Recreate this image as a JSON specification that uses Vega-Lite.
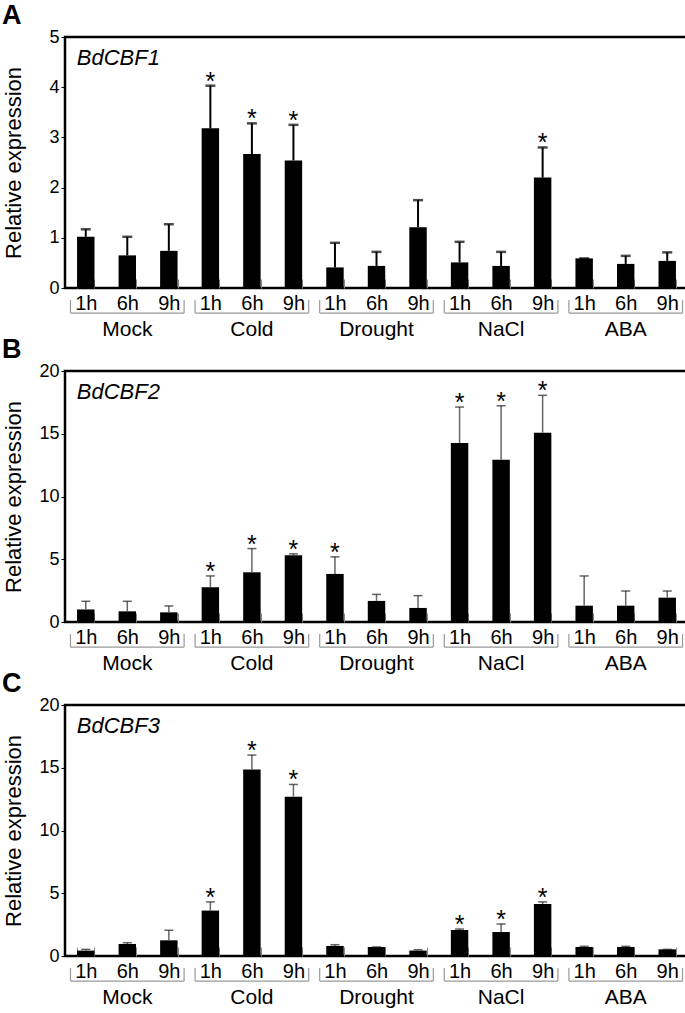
{
  "$schema": "https://vega.github.io/schema/vega-lite/v6.json",
  "padding": {"left": 0, "top": 0, "right": 0, "bottom": 0},
  "spacing": -7,
  "data": {"values": [
    {"p":"A","gene":"BdCBF1","treat":"Mock","time":"1h","key":"Mock|1h","mean":1.02,"upper":1.17,"sig":""},
    {"p":"A","gene":"BdCBF1","treat":"Mock","time":"6h","key":"Mock|6h","mean":0.65,"upper":1.02,"sig":""},
    {"p":"A","gene":"BdCBF1","treat":"Mock","time":"9h","key":"Mock|9h","mean":0.74,"upper":1.27,"sig":""},
    {"p":"A","gene":"BdCBF1","treat":"Cold","time":"1h","key":"Cold|1h","mean":3.18,"upper":4.03,"sig":"*"},
    {"p":"A","gene":"BdCBF1","treat":"Cold","time":"6h","key":"Cold|6h","mean":2.67,"upper":3.28,"sig":"*"},
    {"p":"A","gene":"BdCBF1","treat":"Cold","time":"9h","key":"Cold|9h","mean":2.54,"upper":3.25,"sig":"*"},
    {"p":"A","gene":"BdCBF1","treat":"Drought","time":"1h","key":"Drought|1h","mean":0.41,"upper":0.9,"sig":""},
    {"p":"A","gene":"BdCBF1","treat":"Drought","time":"6h","key":"Drought|6h","mean":0.44,"upper":0.72,"sig":""},
    {"p":"A","gene":"BdCBF1","treat":"Drought","time":"9h","key":"Drought|9h","mean":1.21,"upper":1.75,"sig":""},
    {"p":"A","gene":"BdCBF1","treat":"NaCl","time":"1h","key":"NaCl|1h","mean":0.51,"upper":0.92,"sig":""},
    {"p":"A","gene":"BdCBF1","treat":"NaCl","time":"6h","key":"NaCl|6h","mean":0.44,"upper":0.72,"sig":""},
    {"p":"A","gene":"BdCBF1","treat":"NaCl","time":"9h","key":"NaCl|9h","mean":2.2,"upper":2.8,"sig":"*"},
    {"p":"A","gene":"BdCBF1","treat":"ABA","time":"1h","key":"ABA|1h","mean":0.59,"upper":0.59,"sig":""},
    {"p":"A","gene":"BdCBF1","treat":"ABA","time":"6h","key":"ABA|6h","mean":0.48,"upper":0.64,"sig":""},
    {"p":"A","gene":"BdCBF1","treat":"ABA","time":"9h","key":"ABA|9h","mean":0.54,"upper":0.71,"sig":""},
    {"p":"B","gene":"BdCBF2","treat":"Mock","time":"1h","key":"Mock|1h","mean":1.0,"upper":1.65,"sig":""},
    {"p":"B","gene":"BdCBF2","treat":"Mock","time":"6h","key":"Mock|6h","mean":0.85,"upper":1.65,"sig":""},
    {"p":"B","gene":"BdCBF2","treat":"Mock","time":"9h","key":"Mock|9h","mean":0.77,"upper":1.28,"sig":""},
    {"p":"B","gene":"BdCBF2","treat":"Cold","time":"1h","key":"Cold|1h","mean":2.77,"upper":3.67,"sig":"*"},
    {"p":"B","gene":"BdCBF2","treat":"Cold","time":"6h","key":"Cold|6h","mean":3.96,"upper":5.85,"sig":"*"},
    {"p":"B","gene":"BdCBF2","treat":"Cold","time":"9h","key":"Cold|9h","mean":5.32,"upper":5.43,"sig":"*"},
    {"p":"B","gene":"BdCBF2","treat":"Drought","time":"1h","key":"Drought|1h","mean":3.83,"upper":5.19,"sig":"*"},
    {"p":"B","gene":"BdCBF2","treat":"Drought","time":"6h","key":"Drought|6h","mean":1.68,"upper":2.2,"sig":""},
    {"p":"B","gene":"BdCBF2","treat":"Drought","time":"9h","key":"Drought|9h","mean":1.12,"upper":2.1,"sig":""},
    {"p":"B","gene":"BdCBF2","treat":"NaCl","time":"1h","key":"NaCl|1h","mean":14.26,"upper":17.13,"sig":"*"},
    {"p":"B","gene":"BdCBF2","treat":"NaCl","time":"6h","key":"NaCl|6h","mean":12.93,"upper":17.23,"sig":"*"},
    {"p":"B","gene":"BdCBF2","treat":"NaCl","time":"9h","key":"NaCl|9h","mean":15.08,"upper":18.06,"sig":"*"},
    {"p":"B","gene":"BdCBF2","treat":"ABA","time":"1h","key":"ABA|1h","mean":1.3,"upper":3.67,"sig":""},
    {"p":"B","gene":"BdCBF2","treat":"ABA","time":"6h","key":"ABA|6h","mean":1.3,"upper":2.47,"sig":""},
    {"p":"B","gene":"BdCBF2","treat":"ABA","time":"9h","key":"ABA|9h","mean":1.94,"upper":2.47,"sig":""},
    {"p":"C","gene":"BdCBF3","treat":"Mock","time":"1h","key":"Mock|1h","mean":0.43,"upper":0.53,"sig":""},
    {"p":"C","gene":"BdCBF3","treat":"Mock","time":"6h","key":"Mock|6h","mean":0.96,"upper":1.06,"sig":""},
    {"p":"C","gene":"BdCBF3","treat":"Mock","time":"9h","key":"Mock|9h","mean":1.25,"upper":2.05,"sig":""},
    {"p":"C","gene":"BdCBF3","treat":"Cold","time":"1h","key":"Cold|1h","mean":3.62,"upper":4.31,"sig":"*"},
    {"p":"C","gene":"BdCBF3","treat":"Cold","time":"6h","key":"Cold|6h","mean":14.87,"upper":16.01,"sig":"*"},
    {"p":"C","gene":"BdCBF3","treat":"Cold","time":"9h","key":"Cold|9h","mean":12.69,"upper":13.67,"sig":"*"},
    {"p":"C","gene":"BdCBF3","treat":"Drought","time":"1h","key":"Drought|1h","mean":0.8,"upper":0.9,"sig":""},
    {"p":"C","gene":"BdCBF3","treat":"Drought","time":"6h","key":"Drought|6h","mean":0.72,"upper":0.72,"sig":""},
    {"p":"C","gene":"BdCBF3","treat":"Drought","time":"9h","key":"Drought|9h","mean":0.43,"upper":0.5,"sig":""},
    {"p":"C","gene":"BdCBF3","treat":"NaCl","time":"1h","key":"NaCl|1h","mean":2.07,"upper":2.15,"sig":"*"},
    {"p":"C","gene":"BdCBF3","treat":"NaCl","time":"6h","key":"NaCl|6h","mean":1.91,"upper":2.55,"sig":"*"},
    {"p":"C","gene":"BdCBF3","treat":"NaCl","time":"9h","key":"NaCl|9h","mean":4.15,"upper":4.31,"sig":"*"},
    {"p":"C","gene":"BdCBF3","treat":"ABA","time":"1h","key":"ABA|1h","mean":0.72,"upper":0.77,"sig":""},
    {"p":"C","gene":"BdCBF3","treat":"ABA","time":"6h","key":"ABA|6h","mean":0.72,"upper":0.77,"sig":""},
    {"p":"C","gene":"BdCBF3","treat":"ABA","time":"9h","key":"ABA|9h","mean":0.53,"upper":0.53,"sig":""}
  ]},
  "vconcat": [
    {
      "title": {"text": "A", "anchor": "start", "frame": "bounds", "fontSize": 27, "fontWeight": "bold", "offset": -2},
      "transform": [{"filter": "datum.p === 'A'"}],
      "width": 623, "height": 251,
      "layer": [
        {
          "encoding": {
            "x": {"field": "key", "type": "nominal", "sort": null, "scale": {"paddingInner": 0.58, "paddingOuter": 0.29},
                  "axis": {"orient": "bottom", "title": null, "domain": false, "grid": false, "tickBand": "extent", "tickSize": -9, "tickColor": "#888888", "tickWidth": 1, "labelExpr": "split(datum.value, '|')[1]", "labelFontSize": 20, "labelPadding": 14, "labelAngle": 0}},
            "y": {"field": "mean", "type": "quantitative", "scale": {"domain": [0, 5], "nice": false},
                  "axis": {"title": "Relative expression", "titleFontSize": 22, "titleFontWeight": "normal", "titlePadding": 10, "minExtent": 30, "labelFontSize": 18, "labelPadding": 2, "tickSize": 4, "tickColor": "black", "domain": false, "grid": false, "values": [0, 1, 2, 3, 4, 5]}}
          },
          "layer": [
            {"mark": {"type": "bar", "color": "black"}},
            {"mark": {"type": "rule", "color": "black", "strokeWidth": 2}, "encoding": {"y2": {"field": "upper"}}},
            {"mark": {"type": "tick", "color": "black", "size": 10, "thickness": 2.5}, "encoding": {"y": {"field": "upper", "type": "quantitative"}}},
            {"transform": [{"filter": "datum.sig === '*'"}], "mark": {"type": "text", "fontSize": 25, "dy": 4, "baseline": "alphabetic"}, "encoding": {"y": {"field": "upper", "type": "quantitative"}, "text": {"field": "sig"}}},
            {"transform": [{"filter": "datum.key === 'Mock|1h'"}], "mark": {"type": "text", "fontSize": 22, "fontStyle": "italic", "align": "left", "baseline": "top", "dx": -9, "dy": 10.5}, "encoding": {"y": {"datum": 5}, "text": {"field": "gene"}}}
          ]
        },
        {
          "transform": [{"filter": "datum.time === '1h'"}],
          "layer": [
            {"mark": {"type": "rule", "color": "#999999", "strokeWidth": 1.2},
             "encoding": {
               "x": {"field": "treat", "type": "nominal", "sort": null, "bandPosition": 0, "scale": {"paddingInner": 0.088, "paddingOuter": 0.044},
                     "axis": {"orient": "bottom", "offset": 28, "title": null, "ticks": false, "domain": false, "grid": false, "labelFontSize": 21, "labelPadding": 2, "labelAngle": 0}},
               "x2": {"field": "treat", "bandPosition": 1},
               "y": {"datum": -0.1, "type": "quantitative", "scale": {"domain": [0, 1]}, "axis": null}}},
            {"mark": {"type": "rule", "color": "#999999", "strokeWidth": 1.2},
             "encoding": {
               "x": {"field": "treat", "type": "nominal", "sort": null, "bandPosition": 0, "scale": {"paddingInner": 0.088, "paddingOuter": 0.044},
                     "axis": {"orient": "bottom", "offset": 28, "title": null, "ticks": false, "domain": false, "grid": false, "labelFontSize": 21, "labelPadding": 2, "labelAngle": 0}},
               "y": {"datum": -0.048, "type": "quantitative", "scale": {"domain": [0, 1]}, "axis": null},
               "y2": {"datum": -0.1}}},
            {"mark": {"type": "rule", "color": "#999999", "strokeWidth": 1.2},
             "encoding": {
               "x": {"field": "treat", "type": "nominal", "sort": null, "bandPosition": 1, "scale": {"paddingInner": 0.088, "paddingOuter": 0.044},
                     "axis": {"orient": "bottom", "offset": 28, "title": null, "ticks": false, "domain": false, "grid": false, "labelFontSize": 21, "labelPadding": 2, "labelAngle": 0}},
               "y": {"datum": -0.048, "type": "quantitative", "scale": {"domain": [0, 1]}, "axis": null},
               "y2": {"datum": -0.1}}}
          ]
        }
      ],
      "resolve": {"scale": {"x": "independent", "y": "independent"}, "axis": {"x": "independent", "y": "independent"}}
    },
    {
      "title": {"text": "B", "anchor": "start", "frame": "bounds", "fontSize": 27, "fontWeight": "bold", "offset": -2},
      "transform": [{"filter": "datum.p === 'B'"}],
      "width": 623, "height": 251,
      "layer": [
        {
          "encoding": {
            "x": {"field": "key", "type": "nominal", "sort": null, "scale": {"paddingInner": 0.58, "paddingOuter": 0.29},
                  "axis": {"orient": "bottom", "title": null, "domain": false, "grid": false, "tickBand": "extent", "tickSize": -9, "tickColor": "#888888", "tickWidth": 1, "labelExpr": "split(datum.value, '|')[1]", "labelFontSize": 20, "labelPadding": 14, "labelAngle": 0}},
            "y": {"field": "mean", "type": "quantitative", "scale": {"domain": [0, 20], "nice": false},
                  "axis": {"title": "Relative expression", "titleFontSize": 22, "titleFontWeight": "normal", "titlePadding": 10, "minExtent": 30, "labelFontSize": 18, "labelPadding": 2, "tickSize": 4, "tickColor": "black", "domain": false, "grid": false, "values": [0, 5, 10, 15, 20]}}
          },
          "layer": [
            {"mark": {"type": "bar", "color": "black"}},
            {"mark": {"type": "rule", "color": "#666666", "strokeWidth": 1.5}, "encoding": {"y2": {"field": "upper"}}},
            {"mark": {"type": "tick", "color": "#222222", "size": 9, "thickness": 1.5}, "encoding": {"y": {"field": "upper", "type": "quantitative"}}},
            {"transform": [{"filter": "datum.sig === '*'"}], "mark": {"type": "text", "fontSize": 25, "dy": 4, "baseline": "alphabetic"}, "encoding": {"y": {"field": "upper", "type": "quantitative"}, "text": {"field": "sig"}}},
            {"transform": [{"filter": "datum.key === 'Mock|1h'"}], "mark": {"type": "text", "fontSize": 22, "fontStyle": "italic", "align": "left", "baseline": "top", "dx": -9, "dy": 10.5}, "encoding": {"y": {"datum": 20}, "text": {"field": "gene"}}}
          ]
        },
        {
          "transform": [{"filter": "datum.time === '1h'"}],
          "layer": [
            {"mark": {"type": "rule", "color": "#999999", "strokeWidth": 1.2},
             "encoding": {
               "x": {"field": "treat", "type": "nominal", "sort": null, "bandPosition": 0, "scale": {"paddingInner": 0.088, "paddingOuter": 0.044},
                     "axis": {"orient": "bottom", "offset": 28, "title": null, "ticks": false, "domain": false, "grid": false, "labelFontSize": 21, "labelPadding": 2, "labelAngle": 0}},
               "x2": {"field": "treat", "bandPosition": 1},
               "y": {"datum": -0.1, "type": "quantitative", "scale": {"domain": [0, 1]}, "axis": null}}},
            {"mark": {"type": "rule", "color": "#999999", "strokeWidth": 1.2},
             "encoding": {
               "x": {"field": "treat", "type": "nominal", "sort": null, "bandPosition": 0, "scale": {"paddingInner": 0.088, "paddingOuter": 0.044},
                     "axis": {"orient": "bottom", "offset": 28, "title": null, "ticks": false, "domain": false, "grid": false, "labelFontSize": 21, "labelPadding": 2, "labelAngle": 0}},
               "y": {"datum": -0.048, "type": "quantitative", "scale": {"domain": [0, 1]}, "axis": null},
               "y2": {"datum": -0.1}}},
            {"mark": {"type": "rule", "color": "#999999", "strokeWidth": 1.2},
             "encoding": {
               "x": {"field": "treat", "type": "nominal", "sort": null, "bandPosition": 1, "scale": {"paddingInner": 0.088, "paddingOuter": 0.044},
                     "axis": {"orient": "bottom", "offset": 28, "title": null, "ticks": false, "domain": false, "grid": false, "labelFontSize": 21, "labelPadding": 2, "labelAngle": 0}},
               "y": {"datum": -0.048, "type": "quantitative", "scale": {"domain": [0, 1]}, "axis": null},
               "y2": {"datum": -0.1}}}
          ]
        }
      ],
      "resolve": {"scale": {"x": "independent", "y": "independent"}, "axis": {"x": "independent", "y": "independent"}}
    },
    {
      "title": {"text": "C", "anchor": "start", "frame": "bounds", "fontSize": 27, "fontWeight": "bold", "offset": -2},
      "transform": [{"filter": "datum.p === 'C'"}],
      "width": 623, "height": 251,
      "layer": [
        {
          "encoding": {
            "x": {"field": "key", "type": "nominal", "sort": null, "scale": {"paddingInner": 0.58, "paddingOuter": 0.29},
                  "axis": {"orient": "bottom", "title": null, "domain": false, "grid": false, "tickBand": "extent", "tickSize": -9, "tickColor": "#888888", "tickWidth": 1, "labelExpr": "split(datum.value, '|')[1]", "labelFontSize": 20, "labelPadding": 14, "labelAngle": 0}},
            "y": {"field": "mean", "type": "quantitative", "scale": {"domain": [0, 20], "nice": false},
                  "axis": {"title": "Relative expression", "titleFontSize": 22, "titleFontWeight": "normal", "titlePadding": 10, "minExtent": 30, "labelFontSize": 18, "labelPadding": 2, "tickSize": 4, "tickColor": "black", "domain": false, "grid": false, "values": [0, 5, 10, 15, 20]}}
          },
          "layer": [
            {"mark": {"type": "bar", "color": "black"}},
            {"mark": {"type": "rule", "color": "#666666", "strokeWidth": 1.5}, "encoding": {"y2": {"field": "upper"}}},
            {"mark": {"type": "tick", "color": "#222222", "size": 9, "thickness": 1.5}, "encoding": {"y": {"field": "upper", "type": "quantitative"}}},
            {"transform": [{"filter": "datum.sig === '*'"}], "mark": {"type": "text", "fontSize": 25, "dy": 4, "baseline": "alphabetic"}, "encoding": {"y": {"field": "upper", "type": "quantitative"}, "text": {"field": "sig"}}},
            {"transform": [{"filter": "datum.key === 'Mock|1h'"}], "mark": {"type": "text", "fontSize": 22, "fontStyle": "italic", "align": "left", "baseline": "top", "dx": -9, "dy": 10.5}, "encoding": {"y": {"datum": 20}, "text": {"field": "gene"}}}
          ]
        },
        {
          "transform": [{"filter": "datum.time === '1h'"}],
          "layer": [
            {"mark": {"type": "rule", "color": "#999999", "strokeWidth": 1.2},
             "encoding": {
               "x": {"field": "treat", "type": "nominal", "sort": null, "bandPosition": 0, "scale": {"paddingInner": 0.088, "paddingOuter": 0.044},
                     "axis": {"orient": "bottom", "offset": 28, "title": null, "ticks": false, "domain": false, "grid": false, "labelFontSize": 21, "labelPadding": 2, "labelAngle": 0}},
               "x2": {"field": "treat", "bandPosition": 1},
               "y": {"datum": -0.1, "type": "quantitative", "scale": {"domain": [0, 1]}, "axis": null}}},
            {"mark": {"type": "rule", "color": "#999999", "strokeWidth": 1.2},
             "encoding": {
               "x": {"field": "treat", "type": "nominal", "sort": null, "bandPosition": 0, "scale": {"paddingInner": 0.088, "paddingOuter": 0.044},
                     "axis": {"orient": "bottom", "offset": 28, "title": null, "ticks": false, "domain": false, "grid": false, "labelFontSize": 21, "labelPadding": 2, "labelAngle": 0}},
               "y": {"datum": -0.048, "type": "quantitative", "scale": {"domain": [0, 1]}, "axis": null},
               "y2": {"datum": -0.1}}},
            {"mark": {"type": "rule", "color": "#999999", "strokeWidth": 1.2},
             "encoding": {
               "x": {"field": "treat", "type": "nominal", "sort": null, "bandPosition": 1, "scale": {"paddingInner": 0.088, "paddingOuter": 0.044},
                     "axis": {"orient": "bottom", "offset": 28, "title": null, "ticks": false, "domain": false, "grid": false, "labelFontSize": 21, "labelPadding": 2, "labelAngle": 0}},
               "y": {"datum": -0.048, "type": "quantitative", "scale": {"domain": [0, 1]}, "axis": null},
               "y2": {"datum": -0.1}}}
          ]
        }
      ],
      "resolve": {"scale": {"x": "independent", "y": "independent"}, "axis": {"x": "independent", "y": "independent"}}
    }
  ],
  "config": {
    "font": "Liberation Sans",
    "view": {"stroke": "black", "strokeWidth": 2.5},
    "axis": {"labelColor": "black", "titleColor": "black", "labelFont": "Liberation Sans", "titleFont": "Liberation Sans"},
    "title": {"font": "Liberation Sans", "color": "black"},
    "text": {"font": "Liberation Sans", "color": "black"}
  }
}
